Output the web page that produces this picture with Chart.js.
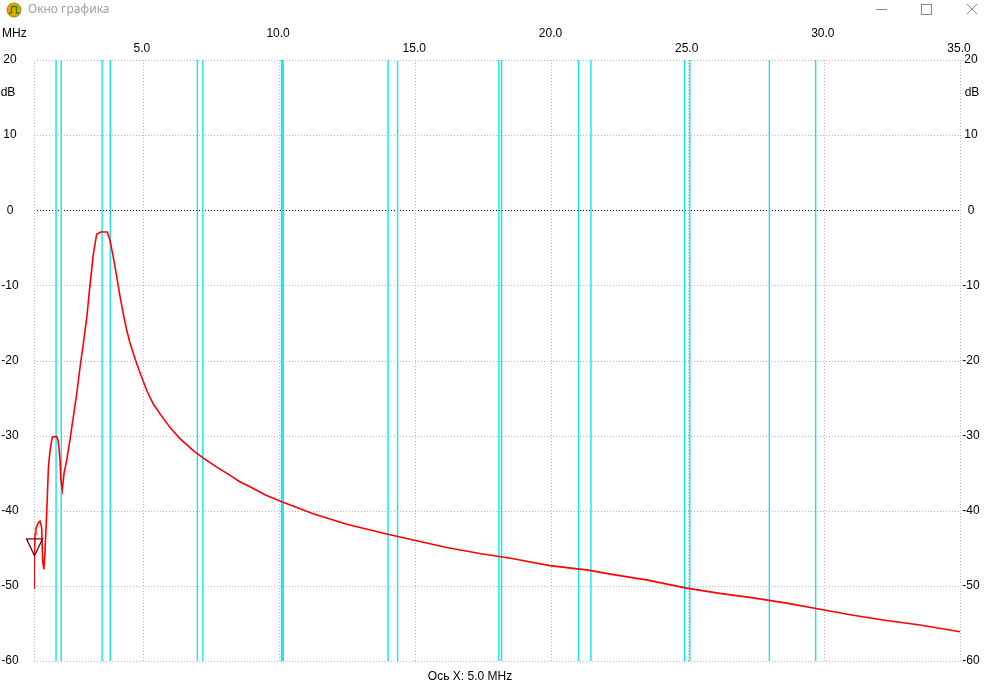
<!DOCTYPE html>
<html>
<head>
<meta charset="utf-8">
<script src="https://cdn.jsdelivr.net/npm/chart.js@4.4.0/dist/chart.umd.min.js"></script>
<style>
html, body { margin: 0; padding: 0; background: #fff; overflow: hidden; }
#wrap { position: relative; width: 989px; height: 686px; }
</style>
</head>
<body>
<div id="wrap"><canvas id="graph" width="989" height="686"></canvas></div>
<script>
const freqMHz = [1.00, 1.01, 1.04, 1.07, 1.16, 1.22, 1.28, 1.32, 1.36, 1.40,
    1.47, 1.53, 1.59, 1.67, 1.83, 1.89, 1.95, 1.99, 2.04, 2.10,
    2.20, 2.32, 2.44, 2.57, 2.69, 2.81, 2.94, 3.06, 3.18, 3.30,
    3.45, 3.69, 3.79, 3.91, 4.04, 4.16, 4.28, 4.40, 4.52, 4.65,
    4.77, 4.95, 5.14, 5.38, 5.63, 5.99, 6.36, 6.85, 7.22, 7.71,
    8.07, 8.54, 8.93, 9.50, 10.03, 11.25, 12.48, 13.95, 14.93, 16.15, 17.37,
    18.60, 19.94, 21.35, 22.27, 23.49, 24.96, 26.18, 27.41, 28.63, 29.86,
    31.08, 32.30, 33.53, 35.0];
const levelDb = [-50.3, -46.0, -43.0, -42.4, -41.6, -41.4, -42.2, -46.7, -47.8, -45.7,
    -40.0, -34.2, -32.0, -30.2, -30.1, -30.7, -32.9, -36.0, -37.2, -35.1,
    -33.3, -30.6, -27.6, -24.4, -20.9, -17.8, -14.2, -9.8, -5.8, -3.2,
    -2.9, -2.9, -4.0, -6.2, -8.9, -11.5, -13.8, -15.9, -17.6, -19.1,
    -20.4, -22.2, -24.0, -25.8, -27.1, -28.9, -30.4, -32.0, -33.0, -34.2,
    -35.0, -36.1, -36.8, -37.9, -38.7, -40.4, -41.8, -43.1, -43.9, -44.9, -45.7,
    -46.4, -47.3, -47.9, -48.5, -49.2, -50.3, -51.0, -51.6, -52.3, -53.1,
    -53.9, -54.6, -55.2, -56.1];

// amateur band edges (cyan lines)
const bandEdges = [1.81, 2.0, 3.5, 3.8, 7.0, 7.2, 10.1, 10.15, 14.0, 14.35,
    18.068, 18.168, 21.0, 21.45, 24.89, 25.08, 28.0, 29.7];

const xTicks = [5, 10, 15, 20, 25, 30, 35];
const yTicks = [20, 10, 0, -10, -20, -30, -40, -50, -60];
const xMin = 1, xMax = 35, yMin = -60, yMax = 20;

const markerFreq = 1.0;
const markerDb = -46.0;

const datasets = [{
    label: 'curve',
    data: freqMHz.map((f, i) => ({ x: f, y: levelDb[i] })),
    borderColor: '#ff0000',
    borderWidth: 1.6,
    pointRadius: 0,
    tension: 0,
    order: 0
}];
bandEdges.forEach(f => {
    datasets.push({
        label: 'band ' + f,
        data: [{ x: f, y: yMin }, { x: f, y: yMax }],
        borderColor: '#12e4f0',
        borderWidth: f === 10.1 ? 2 : 1.4,
        pointRadius: 0,
        order: 1
    });
});

function dotted(ctx, x1, y1, x2, y2, color) {
    ctx.save();
    ctx.strokeStyle = color;
    ctx.lineWidth = 1;
    ctx.setLineDash([1, 2]);
    ctx.beginPath();
    ctx.moveTo(x1, y1);
    ctx.lineTo(x2, y2);
    ctx.stroke();
    ctx.restore();
}

const gridPlugin = {
    id: 'grid',
    beforeDatasetsDraw(chart) {
        const ctx = chart.ctx;
        const xs = chart.scales.x, ys = chart.scales.y;
        const top = ys.getPixelForValue(yMax), bottom = ys.getPixelForValue(yMin);
        const left = xs.getPixelForValue(xMin), right = xs.getPixelForValue(xMax);
        yTicks.forEach(v => {
            const y = Math.round(ys.getPixelForValue(v)) + 0.5;
            dotted(ctx, left, y, right, y, v === 0 ? '#000000' : '#b8b8b8');
        });
        [xMin].concat(xTicks).forEach(v => {
            const x = Math.round(xs.getPixelForValue(v)) + 0.5;
            dotted(ctx, x, top, x, bottom, '#b8b8b8');
        });
    },
    afterDraw(chart) {
        const ctx = chart.ctx;
        const xs = chart.scales.x, ys = chart.scales.y;
        ctx.save();
        ctx.fillStyle = '#000';
        ctx.font = '12px "Liberation Sans", Arial, sans-serif';
        ctx.textBaseline = 'middle';
        ctx.textAlign = 'center';
        // y labels both sides
        yTicks.forEach(v => {
            const y = ys.getPixelForValue(v);
            ctx.fillText(String(v), 10, y);
            ctx.fillText(String(v), 971, y);
        });
        ctx.fillText('dB', 8, 93);
        ctx.fillText('dB', 972, 93);
        // x labels, alternating rows
        xTicks.forEach((v, i) => {
            const x = xs.getPixelForValue(v);
            ctx.fillText(v.toFixed(1), x - 1, i % 2 === 0 ? 48.5 : 34);
        });
        ctx.textAlign = 'left';
        ctx.fillText('MHz', 2, 34);
        ctx.textAlign = 'center';
        ctx.fillText('Ось X: 5.0 MHz', 470, 677);

        // marker triangle
        const mx = xs.getPixelForValue(markerFreq);
        const my = ys.getPixelForValue(markerDb);
        ctx.strokeStyle = '#7a0000';
        ctx.lineWidth = 1.3;
        ctx.beginPath();
        ctx.moveTo(mx - 7.5, my - 17);
        ctx.lineTo(mx + 8.5, my - 17);
        ctx.lineTo(mx + 0.5, my);
        ctx.closePath();
        ctx.stroke();
        ctx.fillStyle = '#c07000';
        ctx.font = '9px "Liberation Sans", Arial, sans-serif';
        ctx.fillText('1', mx + 1.5, my - 23);

        // title bar
        ctx.fillStyle = '#e8a800';
        ctx.beginPath();
        ctx.arc(14, 10, 7, 0, Math.PI * 2);
        ctx.fill();
        ctx.strokeStyle = '#b07800';
        ctx.lineWidth = 1;
        ctx.stroke();
        ctx.strokeStyle = '#1a8a1a';
        ctx.lineWidth = 1.3;
        ctx.beginPath();
        ctx.moveTo(9, 13);
        ctx.lineTo(11.5, 13);
        ctx.lineTo(11.5, 6.5);
        ctx.lineTo(16.5, 6.5);
        ctx.lineTo(16.5, 13);
        ctx.lineTo(19, 13);
        ctx.stroke();
        ctx.fillStyle = '#a0a0a0';
        ctx.font = '12px "Noto Sans", "Open Sans", sans-serif';
        ctx.textAlign = 'left';
        ctx.fillText('Окно графика', 28, 10);
        ctx.strokeStyle = '#8a8a8a';
        ctx.lineWidth = 1;
        ctx.beginPath();
        ctx.moveTo(876, 9.5); ctx.lineTo(887, 9.5);
        ctx.stroke();
        ctx.strokeRect(921.5, 4.5, 10, 10);
        ctx.beginPath();
        ctx.moveTo(967, 4); ctx.lineTo(977, 14);
        ctx.moveTo(977, 4); ctx.lineTo(967, 14);
        ctx.stroke();
        ctx.restore();
    }
};

const ctx = document.getElementById('graph').getContext('2d');
const chart = new Chart(ctx, {
    type: 'line',
    data: { datasets: datasets },
    options: {
        responsive: false,
        animation: false,
        devicePixelRatio: 1,
        layout: { padding: { left: 34, top: 60, right: 29, bottom: 25 } },
        plugins: { legend: { display: false }, tooltip: { enabled: false } },
        scales: {
            x: { type: 'linear', min: xMin, max: xMax, display: false },
            y: { type: 'linear', min: yMin, max: yMax, display: false }
        }
    },
    plugins: [gridPlugin]
});
</script>
</body>
</html>
